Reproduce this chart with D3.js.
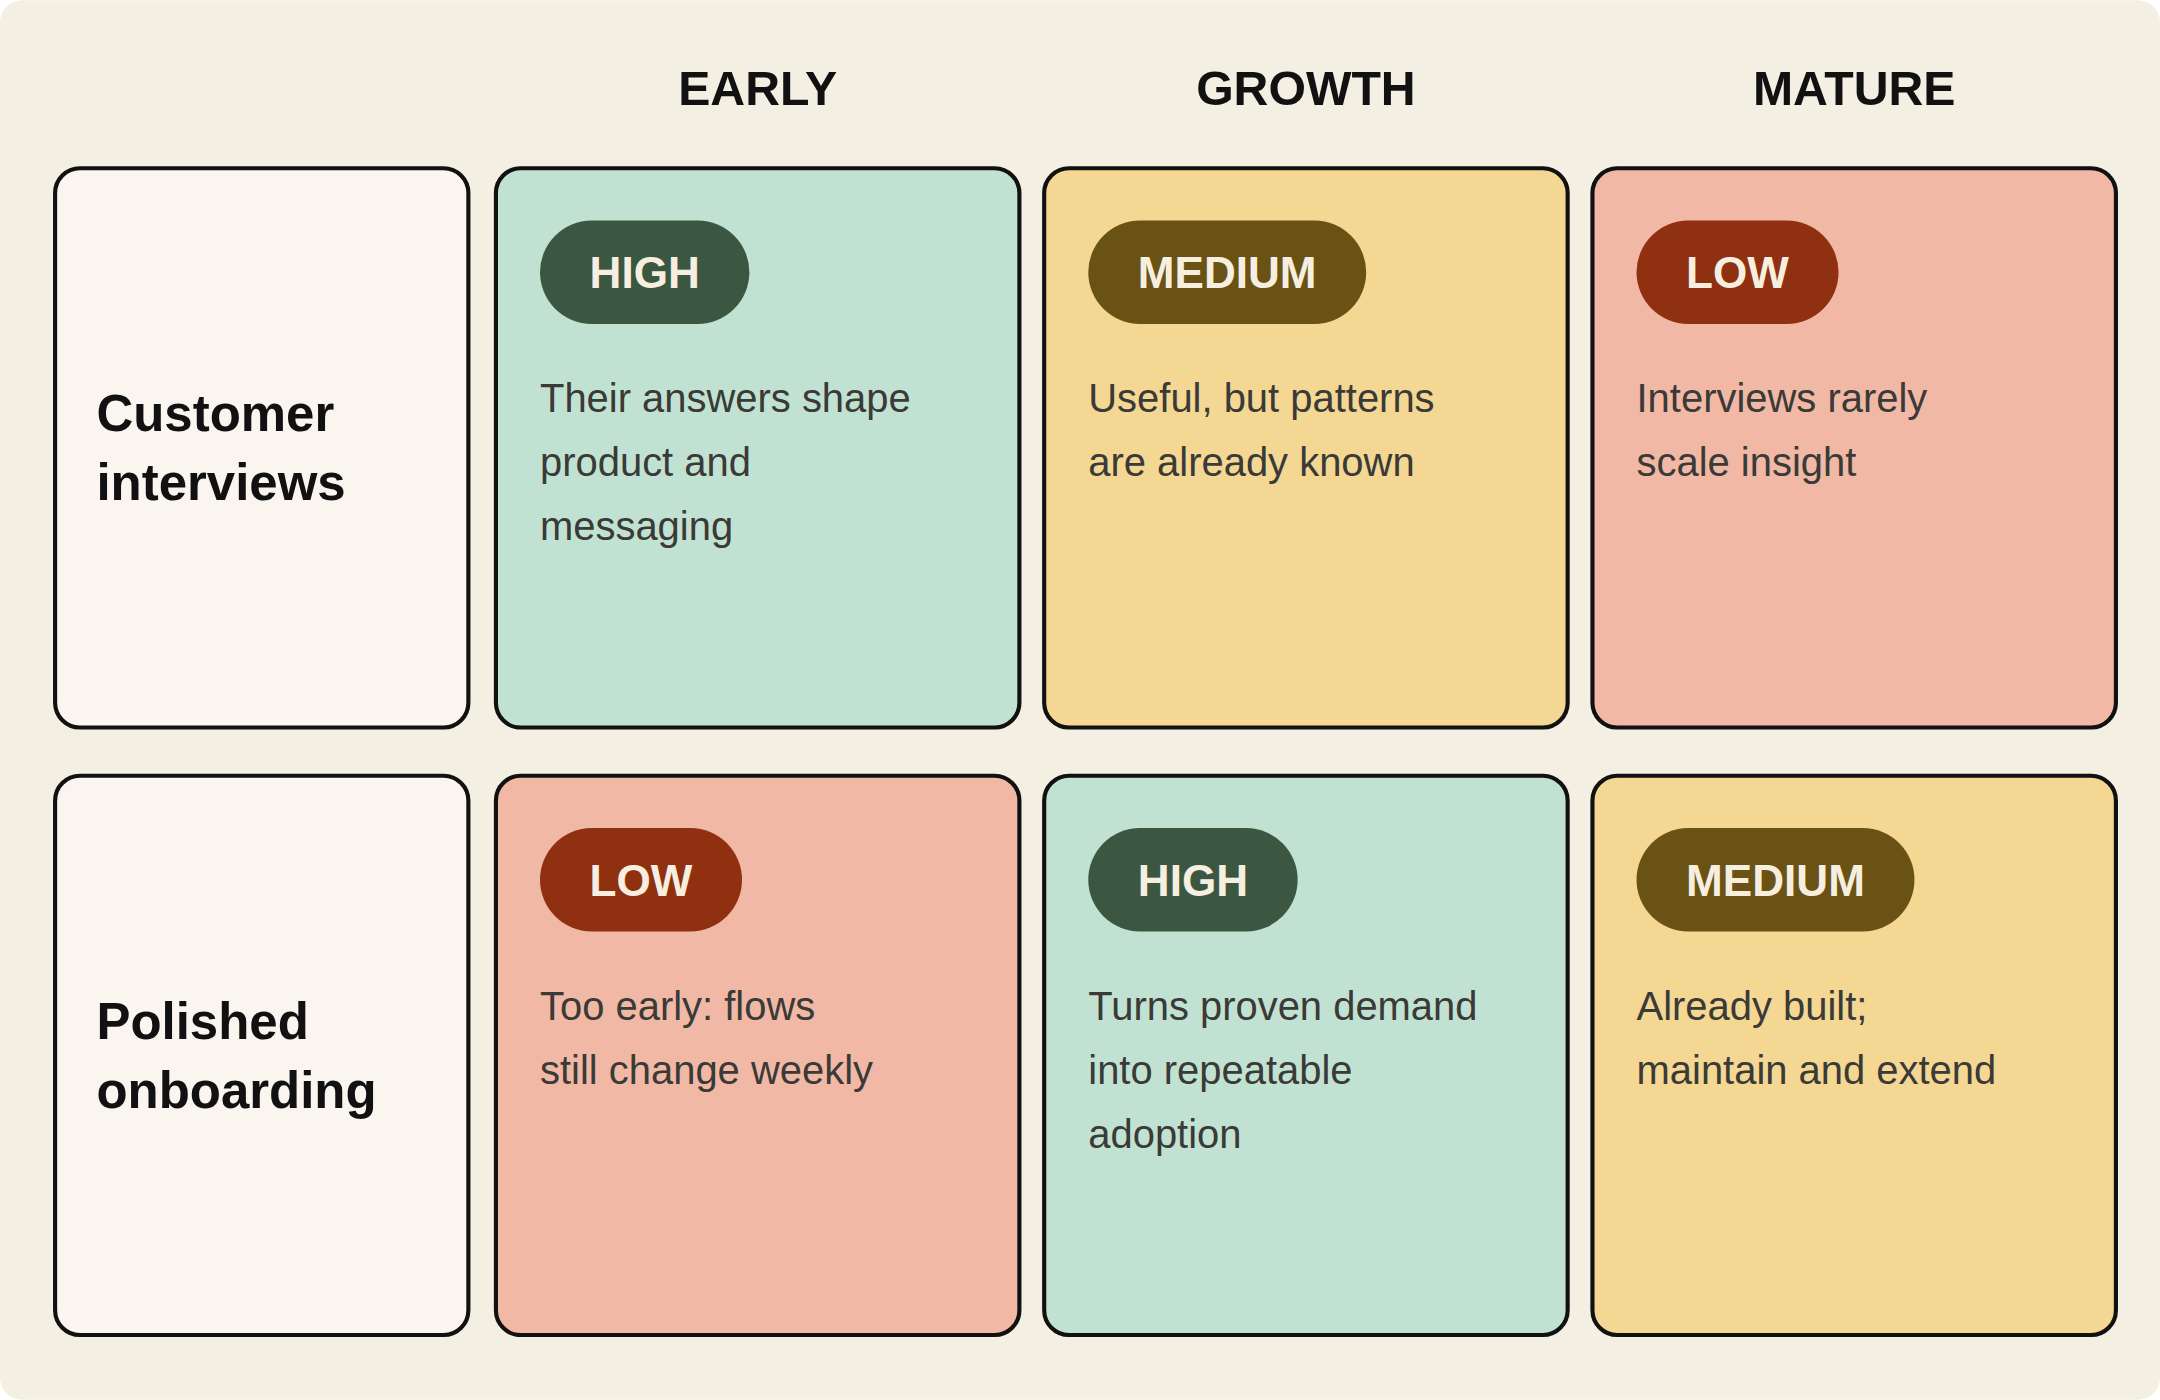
<!DOCTYPE html>
<html>
<head>
<meta charset="utf-8">
<script src="https://cdn.jsdelivr.net/npm/d3@7"></script>
<style>
  body { margin: 0; background: #fff; }
  svg { display: block; }
</style>
</head>
<body>
<div id="chart"></div>
<script>
// data
var stages = ['EARLY', 'GROWTH', 'MATURE'];
var practices = [['Customer', 'interviews'], ['Polished', 'onboarding']];
var ratings = [['HIGH', 'MEDIUM', 'LOW'], ['LOW', 'HIGH', 'MEDIUM']];
var notes = [
  [['Their answers shape', 'product and', 'messaging'], ['Useful, but patterns', 'are already known'], ['Interviews rarely', 'scale insight']],
  [['Too early: flows', 'still change weekly'], ['Turns proven demand', 'into repeatable', 'adoption'], ['Already built;', 'maintain and extend']]
];

var fill = { HIGH: '#c1e2d2', MEDIUM: '#f3d793', LOW: '#f1b8a6' };
var pill = { HIGH: '#3b5741', MEDIUM: '#6a5214', LOW: '#8f3010' };
var font = 'Helvetica, "Liberation Sans", Arial, sans-serif';

var svg = d3.select('#chart').append('svg')
  .attr('width', 2160).attr('height', 1400)
  .attr('viewBox', '0 0 1568 1016');

svg.append('rect').attr('width', 1568).attr('height', 1016).attr('rx', 16).attr('fill', '#f4efe3');

var x = d3.scaleBand().domain(d3.range(stages.length)).range([360, 1536]).paddingInner(18 / 398);
var y = d3.scaleBand().domain(d3.range(practices.length)).range([122, 969]).paddingInner(35 / 441);

// column headers
svg.selectAll('.head').data(stages).enter().append('text')
  .attr('x', function(d, i) { return x(i) + x.bandwidth() / 2; })
  .attr('y', 76)
  .attr('text-anchor', 'middle')
  .attr('font-family', font).attr('font-weight', 700).attr('font-size', 35)
  .attr('fill', '#111')
  .text(function(d) { return d; });

// row labels
var rowG = svg.selectAll('.row').data(practices).enter().append('g')
  .attr('transform', function(d, i) { return 'translate(40,' + y(i) + ')'; });
rowG.append('rect')
  .attr('width', 300).attr('height', y.bandwidth()).attr('rx', 18)
  .attr('fill', '#faf6ef').attr('stroke', '#111').attr('stroke-width', 3);
rowG.each(function(d) {
  var t = d3.select(this).append('text')
    .attr('font-family', font).attr('font-weight', 700).attr('font-size', 37).attr('fill', '#111');
  d.forEach(function(line, k) {
    t.append('tspan').attr('x', 30).attr('y', 191 + k * 50).text(line);
  });
});

// cells
var cells = [];
ratings.forEach(function(r, i) {
  r.forEach(function(v, j) { cells.push({ row: i, col: j, rating: v, note: notes[i][j] }); });
});

var cell = svg.selectAll('.cell').data(cells).enter().append('g')
  .attr('transform', function(d) { return 'translate(' + x(d.col) + ',' + y(d.row) + ')'; });

cell.append('rect')
  .attr('width', x.bandwidth()).attr('height', y.bandwidth()).attr('rx', 18)
  .attr('fill', function(d) { return fill[d.rating]; })
  .attr('stroke', '#111').attr('stroke-width', 3);

cell.each(function(d) {
  var g = d3.select(this);
  var pg = g.append('g').attr('transform', 'translate(32,38)');
  var pr = pg.append('rect').attr('height', 75).attr('rx', 37.5).attr('fill', pill[d.rating]);
  var pt = pg.append('text')
    .attr('x', 36).attr('y', 49)
    .attr('font-family', font).attr('font-weight', 700).attr('font-size', 32)
    .attr('fill', '#f6efe0')
    .text(d.rating);
  pr.attr('width', pt.node().getComputedTextLength() + 72);

  var t = g.append('text')
    .attr('font-family', font).attr('font-size', 29).attr('fill', '#3a3a36');
  d.note.forEach(function(line, k) {
    t.append('tspan').attr('x', 32).attr('y', 177 + k * 46.5).text(line);
  });
});
</script>
</body>
</html>
